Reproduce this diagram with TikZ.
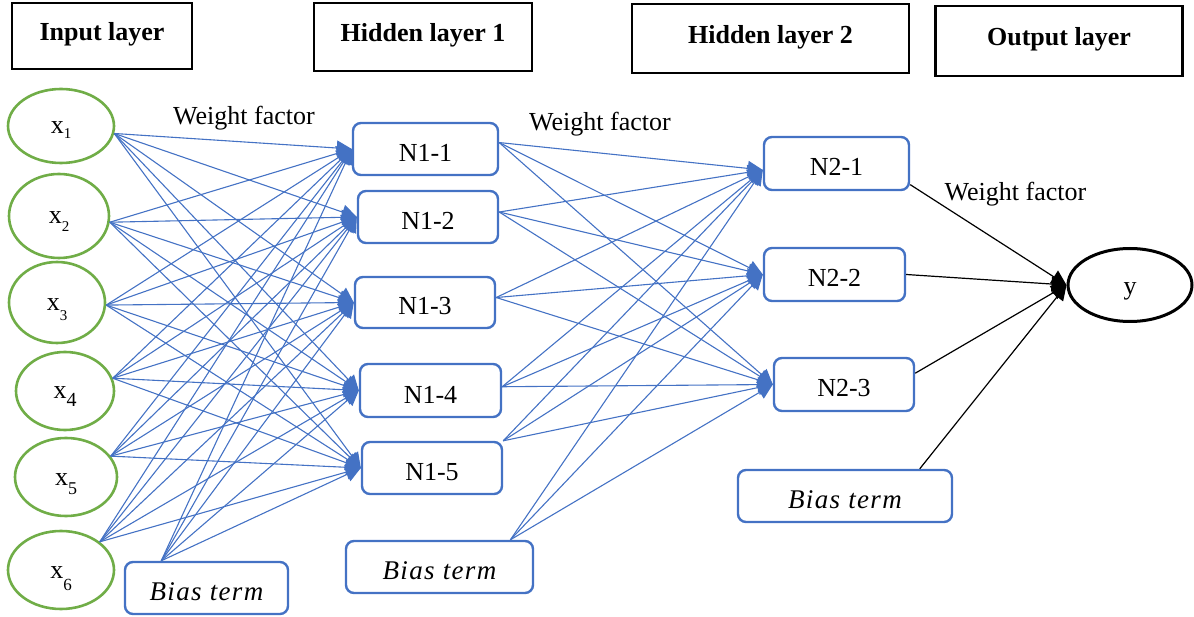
\documentclass[tikz,border=0pt]{standalone}
\usepackage{fontspec}
\setmainfont{Liberation Serif}
\usetikzlibrary{arrows.meta,shapes.geometric}
\definecolor{netblue}{HTML}{4472C4}
\definecolor{netgreen}{HTML}{70AD47}
% input label: x with a lowered index of a given size and drop
\newcommand{\xin}[3]{x\raisebox{-#2pt}{\fontsize{#1}{#1}\selectfont #3}}

\begin{document}
\begin{tikzpicture}[x=1pt,y=-1pt,
  every node/.style={inner sep=0pt, font=\fontsize{26}{30}\selectfont},
  hdr/.style={draw=black, line width=2.6pt,
    font=\bfseries\fontsize{26}{30}\selectfont, text height=20pt, text depth=10pt},
  inp/.style={ellipse, draw=netgreen, line width=2.6pt, text height=16pt, text depth=0pt},
  outp/.style={ellipse, draw=black, line width=3pt, text height=20pt, text depth=0pt},
  neuron/.style={draw=netblue, line width=2.4pt, rounded corners=8pt,
    text height=25pt, text depth=0pt},
  bias/.style={neuron,
    font=\itshape\fontsize{27}{30}\selectfont\addfontfeature{LetterSpace=5}},
  wlab/.style={anchor=base},
  link/.style={draw=netblue, line width=1.1pt, -{Triangle[length=15pt,width=15pt]}},
  outlink/.style={draw=black, line width=1.2pt, -{Triangle[length=15pt,width=15pt]}},
]
\useasboundingbox (0,0) rectangle (1194,617);

% layer headings
\node[hdr, minimum width=180pt, minimum height=66pt] (hIn)  at (102,36)    {Input layer};
\node[hdr, minimum width=218pt, minimum height=68pt] (hH1)  at (423,37)    {Hidden layer 1};
\node[hdr, minimum width=277pt, minimum height=69pt] (hH2)  at (770.5,38.5) {Hidden layer 2};
\node[hdr, minimum width=247pt, minimum height=70pt] (hOut) at (1059,41)   {Output layer};

% input neurons
\node[inp, minimum width=106pt, minimum height=74pt] (x1) at (61,126)    {\xin{15}{5}{1}};
\node[inp, minimum width=100pt, minimum height=84pt] (x2) at (59,216)    {\xin{15}{8}{2}};
\node[inp, minimum width=96pt,  minimum height=81pt] (x3) at (57,302.5)  {\xin{15}{10}{3}};
\node[inp, minimum width=98pt,  minimum height=78pt] (x4) at (65,391)    {\xin{20}{8}{4}};
\node[inp, minimum width=102pt, minimum height=78pt] (x5) at (66,477)    {\xin{18}{9}{5}};
\node[inp, minimum width=106pt, minimum height=78pt] (x6) at (61,570)    {\xin{17}{12}{6}};

% first hidden layer
\node[neuron, minimum width=145pt, minimum height=52pt] (N11) at (425.5,149)   {N1-1};
\node[neuron, minimum width=140pt, minimum height=52pt] (N12) at (428,217)     {N1-2};
\node[neuron, minimum width=140pt, minimum height=51pt] (N13) at (425,302.5)   {N1-3};
\node[neuron, minimum width=141pt, minimum height=53pt] (N14) at (430.5,390.5) {N1-4};
\node[neuron, minimum width=140pt, minimum height=52pt] (N15) at (432,468)     {N1-5};

% second hidden layer
\node[neuron, minimum width=145pt, minimum height=53pt] (N21) at (836.5,163.5) {N2-1};
\node[neuron, minimum width=141pt, minimum height=53pt] (N22) at (834.5,274.5) {N2-2};
\node[neuron, minimum width=140pt, minimum height=53pt] (N23) at (844,384.5)   {N2-3};

% bias terms
\node[bias, minimum width=163pt, minimum height=52pt] (B1) at (206.5,588) {Bias term};
\node[bias, minimum width=187pt, minimum height=52pt] (B2) at (439.5,567) {Bias term};
\node[bias, minimum width=214pt, minimum height=52pt] (B3) at (845,496)   {Bias term};

% output neuron
\node[outp, minimum width=124pt, minimum height=73pt] (y) at (1130,285) {y};

% weight labels
\node[wlab] (w1) at (244,125)    {Weight factor};
\node[wlab] (w2) at (600,131)    {Weight factor};
\node[wlab] (w3) at (1015.5,201) {Weight factor};

% input layer -> hidden layer 1
\foreach \s in {x1.-8,x2.-7,x3.-3,x4.15,x5.25,x6.36,B1.149}
  \foreach \t in {N11,N12,N13,N14,N15}
    \draw[link] (\s) -- (\t.west);

% hidden layer 1 -> hidden layer 2
\foreach \s in {N11.5,N12.4,N13.4,N14.3,N15.north east,B2.21}
  \foreach \t in {N21.185,N22.west,N23.west}
    \draw[link] (\s) -- (\t);

% hidden layer 2 -> output
\foreach \s in {N21.-16,N22.east,N23.9,B3.20}
  \draw[outlink] (\s) -- (y.west);
\end{tikzpicture}
\end{document}
